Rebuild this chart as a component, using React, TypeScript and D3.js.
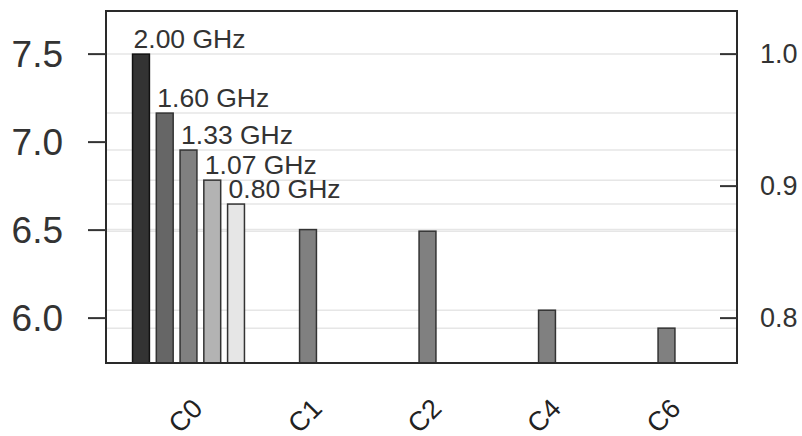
import React from "react";
import * as d3 from "d3";

const categories = ["C0", "C1", "C2", "C4", "C6"];
const frequencies = ["2.00 GHz", "1.60 GHz", "1.33 GHz", "1.07 GHz", "0.80 GHz"];
// values per frequency series, per category (null = no bar)
const series2_00 = [7.5, null, null, null, null];
const series1_60 = [7.165, null, null, null, null];
const series1_33 = [6.955, 6.503, 6.494, 6.045, 5.943];
const series1_07 = [6.784, null, null, null, null];
const series0_80 = [6.648, null, null, null, null];
const seriesValues = [series2_00, series1_60, series1_33, series1_07, series0_80];
const seriesColors = ["#333333", "#666666", "#808080", "#b3b3b3", "#e6e6e6"];
const leftTicks = [6.0, 6.5, 7.0, 7.5];
const rightTicks = [0.8, 0.9, 1.0];
const normBase = 7.5;

const W = 802;
const H = 436;
const plot = { left: 106, right: 737, top: 11, bottom: 363 };

export default function App() {
  const y = d3.scaleLinear().domain([5.745, 7.745]).range([plot.bottom, plot.top]);
  const yR = d3
    .scaleLinear()
    .domain([5.745 / normBase, 7.745 / normBase])
    .range([plot.bottom, plot.top]);
  const x = d3.scaleBand<string>().domain(categories).range([128.75, 726.25]).padding(0);
  const xs = d3
    .scaleBand<number>()
    .domain(d3.range(frequencies.length))
    .range([-59.4, 59.4])
    .paddingInner(0.29)
    .paddingOuter(0.145);

  const bars: { x: number; w: number; v: number; s: number; c: number }[] = [];
  seriesValues.forEach((vals, s) => {
    vals.forEach((v, c) => {
      if (v == null) return;
      const cx = (x(categories[c]) as number) + x.bandwidth() / 2;
      bars.push({ x: cx + (xs(s) as number), w: xs.bandwidth(), v, s, c });
    });
  });
  const gridVals = Array.from(new Set(bars.map((b) => b.v)));

  const font = "'Liberation Sans', Arial, Helvetica, sans-serif";

  return (
    <svg
      width={W}
      height={H}
      style={{ position: "absolute", left: 0, top: 0, background: "#fff" }}
      fontFamily={font}
    >
      {gridVals.map((v, i) => (
        <line
          key={"g" + i}
          x1={plot.left}
          x2={plot.right}
          y1={y(v)}
          y2={y(v)}
          stroke="#e6e6e6"
          strokeWidth={1.5}
        />
      ))}
      {bars.map((b, i) => (
        <rect
          key={"b" + i}
          x={b.x}
          y={y(b.v)}
          width={b.w}
          height={plot.bottom - y(b.v)}
          fill={seriesColors[b.s]}
          stroke={b.s === 0 ? "#111" : "#333"}
          strokeWidth={1.5}
        />
      ))}
      {bars
        .filter((b) => b.c === 0)
        .map((b, i) => (
          <text
            key={"l" + i}
            x={b.x + 1}
            y={y(b.v) - 6}
            fontSize={26.5}
            fill="#333"
          >
            {frequencies[b.s]}
          </text>
        ))}
      {/* frame */}
      <rect
        x={plot.left}
        y={plot.top}
        width={plot.right - plot.left}
        height={plot.bottom - plot.top}
        fill="none"
        stroke="#2a2a2a"
        strokeWidth={2}
      />
      {/* left axis */}
      {leftTicks.map((t, i) => (
        <g key={"lt" + i}>
          <line x1={plot.left - 18} x2={plot.left} y1={y(t)} y2={y(t)} stroke="#333" strokeWidth={2} />
          <text
            x={63}
            y={y(t)}
            textAnchor="end"
            dominantBaseline="central"
            fontSize={37}
            fill="#333"
          >
            {t.toFixed(1)}
          </text>
        </g>
      ))}
      {/* right axis */}
      {rightTicks.map((t, i) => (
        <g key={"rt" + i}>
          <line x1={plot.right - 17} x2={plot.right} y1={yR(t)} y2={yR(t)} stroke="#333" strokeWidth={2} />
          <text
            x={760}
            y={yR(t)}
            textAnchor="start"
            dominantBaseline="central"
            fontSize={27}
            fill="#333"
          >
            {t.toFixed(1)}
          </text>
        </g>
      ))}
      {/* x labels */}
      {categories.map((c, i) => {
        const cx = (x(c) as number) + x.bandwidth() / 2 - 3;
        const cy = 416;
        return (
          <text
            key={"x" + i}
            x={cx}
            y={cy}
            textAnchor="middle"
            dominantBaseline="central"
            fontSize={27}
            fill="#222"
            transform={`rotate(-45 ${cx} ${cy})`}
          >
            {c}
          </text>
        );
      })}
    </svg>
  );
}
